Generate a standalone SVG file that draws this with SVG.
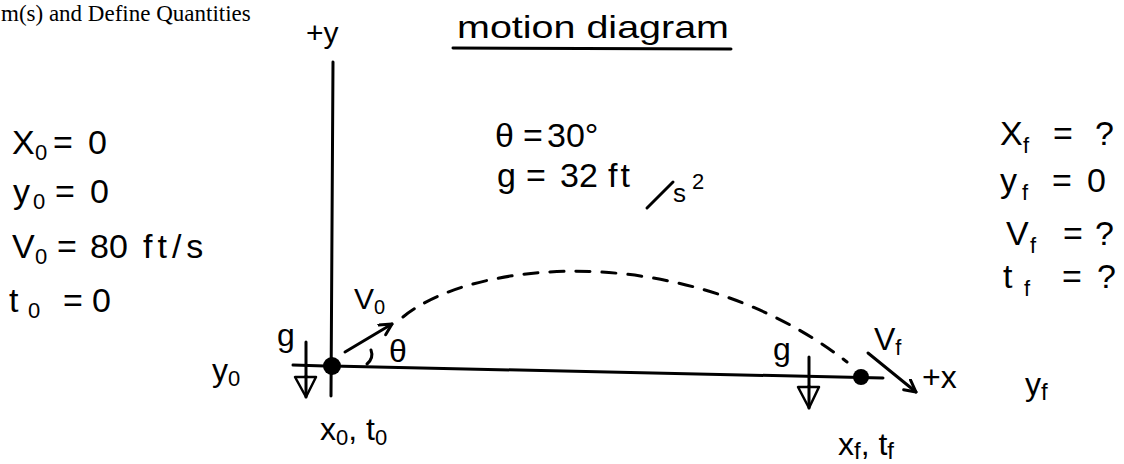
<svg xmlns="http://www.w3.org/2000/svg" width="1124" height="464" viewBox="0 0 1124 464">
<defs>
<style>
text{font-family:"Liberation Sans","DejaVu Sans",sans-serif;fill:#000}
.big{font-size:34px}
.lab{font-size:32px}
.sub{font-size:22px}
.ln{stroke:#000;stroke-width:3;fill:none;stroke-linecap:round}
.hd{stroke:#000;stroke-width:2.5;fill:#fff;stroke-linejoin:round}
</style>
<marker id="ah" markerWidth="16" markerHeight="16" refX="13" refY="7" orient="auto" markerUnits="userSpaceOnUse">
<path d="M1,1 L13,7 L2,13" fill="none" stroke="#000" stroke-width="3" stroke-linecap="round" stroke-linejoin="round"/>
</marker>
</defs>
<rect width="1124" height="464" fill="#fff"/>

<text id="header" x="1" y="21" style="font-family:'Liberation Serif',serif;font-size:23px">m(s) and Define Quantities</text>

<g id="title">
<text x="457" y="38" style="font-size:32px" textLength="272" lengthAdjust="spacingAndGlyphs">motion diagram</text>
<line class="ln" x1="453" y1="48" x2="731" y2="49" stroke-width="2.5"/>
</g>

<g id="initial-values" class="big">
<text y="154"><tspan x="12">X</tspan><tspan x="35" dy="6" class="sub">0</tspan><tspan x="53" dy="-6">=</tspan><tspan x="88">0</tspan></text>
<text y="203"><tspan x="13">y</tspan><tspan x="33" dy="6" class="sub">0</tspan><tspan x="55" dy="-6">=</tspan><tspan x="90">0</tspan></text>
<text y="258"><tspan x="12">V</tspan><tspan x="35" dy="6" class="sub">0</tspan><tspan x="57" dy="-6">=</tspan><tspan x="90">80</tspan><tspan x="143" style="letter-spacing:5px">ft/s</tspan></text>
<text y="312"><tspan x="9">t</tspan><tspan x="28" dy="6" class="sub">0</tspan><tspan x="63" dy="-6">=</tspan><tspan x="92">0</tspan></text>
</g>

<g id="given" class="big">
<text y="147"><tspan x="495">θ</tspan><tspan x="523">=</tspan><tspan x="547">30°</tspan></text>
<text y="187"><tspan x="497">g</tspan><tspan x="526">=</tspan><tspan x="560">32</tspan><tspan x="608" style="letter-spacing:3px">ft</tspan></text>
<line class="ln" x1="647" y1="208" x2="673" y2="182" stroke-width="3"/>
<text x="673" y="202" style="font-size:26px">s</text>
<text x="692" y="189" style="font-size:22px">2</text>
</g>

<g id="final-values" class="big">
<text y="145"><tspan x="1000">X</tspan><tspan x="1023" dy="8" class="sub">f</tspan><tspan x="1053" dy="-8">=</tspan><tspan x="1095">?</tspan></text>
<text y="192"><tspan x="1000">y</tspan><tspan x="1022" dy="8" class="sub">f</tspan><tspan x="1052" dy="-8">=</tspan><tspan x="1087">0</tspan></text>
<text y="245"><tspan x="1006">V</tspan><tspan x="1030" dy="8" class="sub">f</tspan><tspan x="1063" dy="-8">=</tspan><tspan x="1095">?</tspan></text>
<text y="288"><tspan x="1003">t</tspan><tspan x="1024" dy="8" class="sub">f</tspan><tspan x="1062" dy="-8">=</tspan><tspan x="1097">?</tspan></text>
</g>

<g id="connectors">
<line class="ln" x1="333" y1="62" x2="331" y2="396"/>
<line class="ln" x1="332" y1="366" x2="883" y2="378"/>
<line class="ln" x1="293" y1="365" x2="325" y2="366"/>
<path class="ln" d="M403 317 C 475 258 690 240 847 362" stroke-dasharray="14 12"/>
<line class="ln" x1="345" y1="352" x2="392" y2="324" marker-end="url(#ah)"/>
<path class="ln" d="M367 364 Q 374 358 371 350" stroke-width="2.5"/>
<line class="ln" x1="868" y1="353" x2="916" y2="392" marker-end="url(#ah)"/>
<line class="ln" x1="306" y1="342" x2="306" y2="397"/>
<polygon class="hd" points="295,377 316,377 306,397"/>
<line class="ln" x1="306" y1="376" x2="306" y2="394"/>
<line class="ln" x1="809" y1="357" x2="809" y2="408"/>
<polygon class="hd" points="798,387 819,387 809,408"/>
<line class="ln" x1="809" y1="386" x2="809" y2="404"/>
</g>

<g id="start-point">
<circle cx="332" cy="366" r="9"/>
<text x="306" y="43" style="font-size:30px">+y</text>
<text x="354" y="309" style="font-size:30px">V<tspan dy="5" style="font-size:20px">0</tspan></text>
<text class="lab" x="389" y="362">θ</text>
<text class="lab" x="277" y="346">g</text>
<text class="lab" x="212" y="381">y<tspan dy="5" style="font-size:22px">0</tspan></text>
<text class="lab" x="320" y="440">x<tspan dy="5" style="font-size:22px">0</tspan><tspan dy="-5">, t</tspan><tspan dy="5" style="font-size:22px">0</tspan></text>
</g>

<g id="end-point">
<circle cx="861" cy="377" r="8"/>
<text class="lab" x="773" y="360">g</text>
<text class="lab" x="874" y="350">V<tspan dy="5" style="font-size:22px">f</tspan></text>
<text class="lab" x="922" y="388">+x</text>
<text class="lab" x="1025" y="395">y<tspan dy="5" style="font-size:24px">f</tspan></text>
<text class="lab" x="838" y="455">x<tspan dy="4" style="font-size:24px">f</tspan><tspan dy="-4">, t</tspan><tspan dy="4" style="font-size:24px">f</tspan></text>
</g>
</svg>
